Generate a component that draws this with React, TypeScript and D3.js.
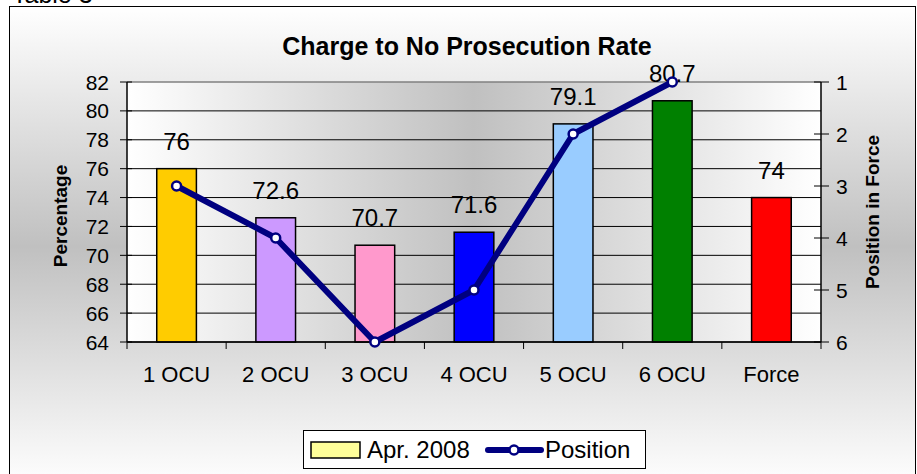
import React from 'react';
import * as d3 from 'd3';

const CATEGORIES = ['1 OCU', '2 OCU', '3 OCU', '4 OCU', '5 OCU', '6 OCU', 'Force'];
const RATES = [76, 72.6, 70.7, 71.6, 79.1, 80.7, 74];
const BAR_COLORS = ['#FFCC00', '#CC99FF', '#FF99CC', '#0000FF', '#99CCFF', '#008000', '#FF0000'];
const POSITIONS = [3, 4, 6, 5, 2, 1, null];
const LEFT_TICKS = [64, 66, 68, 70, 72, 74, 76, 78, 80, 82];
const RIGHT_TICKS = [1, 2, 3, 4, 5, 6];

const W = 917;
const H = 474;
const margin = { top: 82, right: 96, bottom: 132, left: 127 };
const FONT = 'Liberation Sans, Arial, sans-serif';

const App = () => {
    const x = d3.scaleBand<string>()
        .domain(CATEGORIES)
        .range([margin.left, W - margin.right]);
    const y = d3.scaleLinear().domain([64, 82]).range([H - margin.bottom, margin.top]);
    const yr = d3.scaleLinear().domain([1, 6]).range([margin.top, H - margin.bottom]);

    const bw = x.bandwidth() * 0.4;
    const cx = (c: string) => (x(c) as number) + x.bandwidth() / 2;
    const plotL = margin.left;
    const plotR = W - margin.right;
    const plotT = margin.top;
    const plotB = H - margin.bottom;

    const linePts = CATEGORIES.map((c, i) => ({ c, p: POSITIONS[i] })).filter(d => d.p != null);
    const line = d3.line<{ c: string; p: number | null }>()
        .x(d => cx(d.c))
        .y(d => yr(d.p as number));

    return (
        <div style={{ position: 'absolute', left: 0, top: 0 }}>
            <svg width={W} height={H} style={{ display: 'block', fontFamily: FONT }}>
                <defs>
                    <linearGradient id="outerGrad" x1="0" y1="0" x2="0" y2="1">
                        <stop offset="0" stopColor="#ffffff" />
                        <stop offset="0.5" stopColor="#c0c0c0" />
                        <stop offset="1" stopColor="#ffffff" />
                    </linearGradient>
                    <linearGradient id="plotGrad" x1="0" y1="0" x2="1" y2="0">
                        <stop offset="0" stopColor="#ffffff" />
                        <stop offset="0.5" stopColor="#c0c0c0" />
                        <stop offset="1" stopColor="#ffffff" />
                    </linearGradient>
                </defs>
                <rect x={0} y={0} width={W} height={H} fill="#fff" />
                <text x={12} y={3} fontSize={25} fill="#000">Table 3</text>
                <rect x={9.5} y={6.5} width={906} height={480} fill="url(#outerGrad)" stroke="#000" strokeWidth={1} />

                <text x={467} y={55} textAnchor="middle" fontSize={25} fontWeight="bold">
                    Charge to No Prosecution Rate
                </text>

                <rect x={plotL} y={plotT} width={plotR - plotL} height={plotB - plotT} fill="url(#plotGrad)" />

                {LEFT_TICKS.map(t => (
                    <line key={'g' + t} x1={plotL} x2={plotR} y1={y(t)} y2={y(t)}
                        stroke={t === 82 ? '#808080' : '#000'} strokeWidth={t === 82 ? 1.5 : 1} />
                ))}

                {CATEGORIES.map((c, i) => (
                    <rect key={c} x={cx(c) - bw / 2} y={y(RATES[i])} width={bw} height={plotB - y(RATES[i])}
                        fill={BAR_COLORS[i]} stroke="#000" strokeWidth={1.5} />
                ))}

                {/* left axis */}
                <line x1={plotL} x2={plotL} y1={plotT} y2={plotB} stroke="#000" strokeWidth={1.5} />
                {LEFT_TICKS.map(t => (
                    <g key={'l' + t}>
                        <line x1={plotL - 7} x2={plotL + 5} y1={y(t)} y2={y(t)} stroke="#000" />
                        <text x={109} y={y(t) + 7.5} textAnchor="end" fontSize={21}>{t}</text>
                    </g>
                ))}

                {/* right axis */}
                <line x1={plotR} x2={plotR} y1={plotT} y2={plotB} stroke="#000" strokeWidth={1.5} />
                {RIGHT_TICKS.map(t => (
                    <g key={'r' + t}>
                        <line x1={plotR - 7} x2={plotR + 8} y1={yr(t)} y2={yr(t)} stroke="#000" />
                        <text x={plotR + 15} y={yr(t) + 7.5} textAnchor="start" fontSize={21}>{t}</text>
                    </g>
                ))}

                {/* bottom axis */}
                <line x1={plotL} x2={plotR} y1={plotB} y2={plotB} stroke="#000" strokeWidth={1.5} />
                {CATEGORIES.map(c => (
                    <line key={'t' + c} x1={x(c)} x2={x(c)} y1={plotB} y2={plotB + 7} stroke="#000" />
                ))}
                <line x1={plotR} x2={plotR} y1={plotB} y2={plotB + 7} stroke="#000" />
                {CATEGORIES.map(c => (
                    <text key={'xl' + c} x={cx(c)} y={382} textAnchor="middle" fontSize={22}>{c}</text>
                ))}

                {/* value labels */}
                {CATEGORIES.map((c, i) => (
                    <text key={'v' + c} x={cx(c)} y={y(RATES[i]) - 19} textAnchor="middle" fontSize={24}>{RATES[i]}</text>
                ))}

                {/* position line */}
                <path d={line(linePts) || ''} fill="none" stroke="#000080" strokeWidth={6} strokeLinejoin="round" />
                {linePts.map(d => (
                    <circle key={'m' + d.c} cx={cx(d.c)} cy={yr(d.p as number)} r={4.5} fill="#fff" stroke="#000080" strokeWidth={2.5} />
                ))}

                {/* axis titles */}
                <text transform={`translate(67,216) rotate(-90)`} textAnchor="middle" fontSize={19} fontWeight="bold">
                    Percentage
                </text>
                <text transform={`translate(879,212) rotate(-90)`} textAnchor="middle" fontSize={19} fontWeight="bold">
                    Position in Force
                </text>

                {/* legend */}
                <rect x={303.5} y={430.5} width={342} height={38} fill="#fff" stroke="#000" strokeWidth={1} />
                <rect x={311} y={442} width={49} height={16} fill="#FFFF99" stroke="#000" strokeWidth={1.5} />
                <text x={367} y={458} fontSize={24}>Apr. 2008</text>
                <line x1={488} x2={541} y1={450} y2={450} stroke="#000080" strokeWidth={6} strokeLinecap="round" />
                <circle cx={514} cy={450} r={4.5} fill="#fff" stroke="#000080" strokeWidth={2.5} />
                <text x={545} y={458} fontSize={24}>Position</text>
            </svg>
        </div>
    );
};

export default App;
